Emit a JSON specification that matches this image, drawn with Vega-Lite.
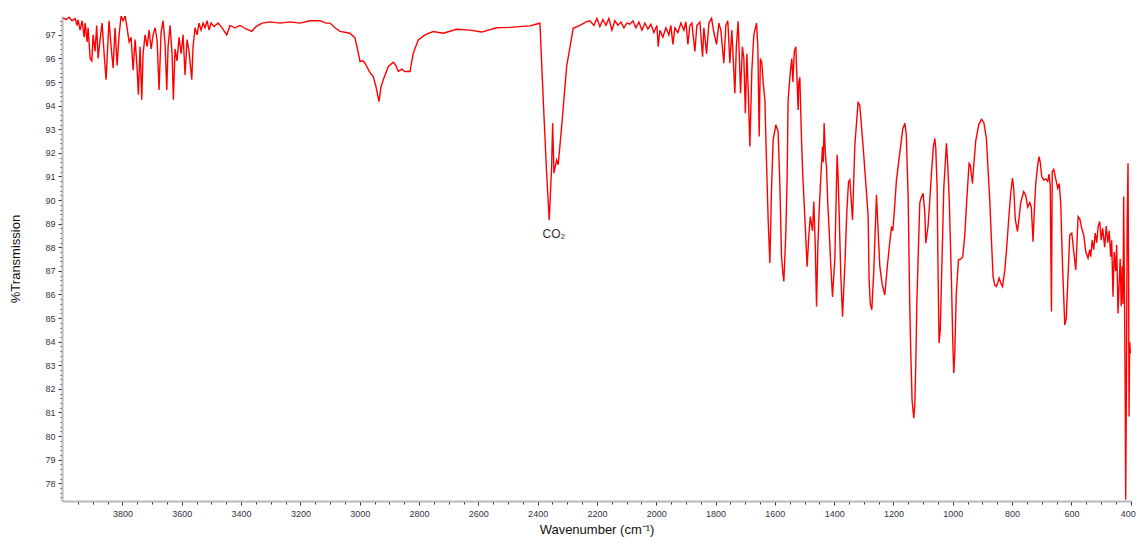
{
  "$schema": "https://vega.github.io/schema/vega-lite/v6.json",
  "width": 1069,
  "height": 485,
  "autosize": "none",
  "padding": {"left": 62, "top": 16, "right": 5, "bottom": 36},
  "background": "white",
  "config": {"view": {"stroke": null}, "font": "Liberation Sans"},
  "datasets": {
    "ir": [
      {"w":4000,"t":97.72},{"w":3990,"t":97.65},{"w":3980,"t":97.75},{"w":3970,"t":97.6},{"w":3960,"t":97.7},{"w":3953,"t":97.4},{"w":3950,"t":97.65},{"w":3943,"t":97.2},{"w":3936,"t":97.6},{"w":3929.5,"t":96.9},{"w":3926,"t":97.5},{"w":3919.3,"t":96.7},{"w":3916,"t":97.3},{"w":3909,"t":96.0},{"w":3903.5,"t":95.9},{"w":3899,"t":97.0},{"w":3892.4,"t":96.3},{"w":3887,"t":97.4},{"w":3882.2,"t":96.0},{"w":3875.5,"t":96.8},{"w":3868.8,"t":97.5},{"w":3862,"t":96.2},{"w":3855.3,"t":95.1},{"w":3850,"t":96.5},{"w":3845.2,"t":97.6},{"w":3838.4,"t":96.5},{"w":3831.7,"t":95.6},{"w":3825,"t":97.3},{"w":3818.2,"t":95.7},{"w":3811.4,"t":97.0},{"w":3804.7,"t":97.8},{"w":3798,"t":97.6},{"w":3791,"t":97.8},{"w":3784.5,"t":97.3},{"w":3777.7,"t":96.7},{"w":3771,"t":96.9},{"w":3764.3,"t":95.5},{"w":3757.5,"t":96.8},{"w":3750.8,"t":95.6},{"w":3746.4,"t":94.46},{"w":3740.7,"t":96.5},{"w":3735,"t":94.25},{"w":3730.6,"t":96.2},{"w":3723.8,"t":97.0},{"w":3717,"t":96.5},{"w":3710.3,"t":97.2},{"w":3703.6,"t":96.4},{"w":3696.8,"t":97.0},{"w":3690,"t":97.3},{"w":3683.4,"t":96.8},{"w":3676.6,"t":94.67},{"w":3670,"t":97.1},{"w":3663.1,"t":97.6},{"w":3656.4,"t":96.6},{"w":3650.7,"t":94.67},{"w":3646.3,"t":96.5},{"w":3639.5,"t":97.4},{"w":3632.8,"t":96.2},{"w":3628.4,"t":94.25},{"w":3622.7,"t":96.4},{"w":3616,"t":95.9},{"w":3609.2,"t":96.9},{"w":3602.5,"t":96.2},{"w":3595.7,"t":97.0},{"w":3589,"t":95.3},{"w":3582.2,"t":96.8},{"w":3575.5,"t":96.3},{"w":3566.4,"t":95.1},{"w":3562,"t":96.5},{"w":3555.3,"t":97.3},{"w":3548.5,"t":97.0},{"w":3541.8,"t":97.5},{"w":3535,"t":97.2},{"w":3528.3,"t":97.5},{"w":3521.5,"t":97.3},{"w":3514.8,"t":97.6},{"w":3508,"t":97.2},{"w":3501.3,"t":97.5},{"w":3491.2,"t":97.35},{"w":3477.7,"t":97.5},{"w":3464.2,"t":97.3},{"w":3448.4,"t":97.0},{"w":3437.3,"t":97.4},{"w":3420.4,"t":97.3},{"w":3403.6,"t":97.4},{"w":3383.3,"t":97.25},{"w":3364.1,"t":97.15},{"w":3349.6,"t":97.35},{"w":3329.4,"t":97.5},{"w":3302.4,"t":97.55},{"w":3268.7,"t":97.5},{"w":3235,"t":97.55},{"w":3201.3,"t":97.5},{"w":3167.6,"t":97.6},{"w":3133.9,"t":97.6},{"w":3113.6,"t":97.5},{"w":3100.2,"t":97.5},{"w":3083.3,"t":97.3},{"w":3066.5,"t":97.15},{"w":3032.9,"t":97.07},{"w":3015.9,"t":96.87},{"w":3005.8,"t":96.3},{"w":2999,"t":95.87},{"w":2989,"t":95.9},{"w":2982.2,"t":95.8},{"w":2965.3,"t":95.4},{"w":2954.2,"t":95.23},{"w":2945,"t":94.8},{"w":2935,"t":94.17},{"w":2928.3,"t":94.8},{"w":2920.5,"t":95.1},{"w":2903.6,"t":95.66},{"w":2886.8,"t":95.84},{"w":2877.7,"t":95.7},{"w":2870,"t":95.45},{"w":2858.5,"t":95.55},{"w":2847.3,"t":95.45},{"w":2830.5,"t":95.45},{"w":2819.4,"t":96.22},{"w":2802.5,"t":96.79},{"w":2780,"t":97.0},{"w":2752,"t":97.14},{"w":2718.2,"t":97.07},{"w":2673,"t":97.24},{"w":2628.2,"t":97.2},{"w":2588.8,"t":97.12},{"w":2538.2,"t":97.3},{"w":2493.4,"t":97.32},{"w":2459.7,"t":97.35},{"w":2426,"t":97.38},{"w":2405.7,"t":97.45},{"w":2392.3,"t":97.5},{"w":2381.1,"t":94.25},{"w":2369.7,"t":91.14},{"w":2360.9,"t":89.16},{"w":2352.8,"t":91.42},{"w":2349.4,"t":93.26},{"w":2345,"t":91.14},{"w":2336,"t":91.7},{"w":2330.6,"t":91.5},{"w":2319.1,"t":93.1},{"w":2302.2,"t":95.66},{"w":2280,"t":97.28},{"w":2257.4,"t":97.4},{"w":2234.8,"t":97.56},{"w":2223.7,"t":97.6},{"w":2210.2,"t":97.4},{"w":2200.2,"t":97.7},{"w":2190,"t":97.35},{"w":2180,"t":97.65},{"w":2169.8,"t":97.4},{"w":2159.7,"t":97.7},{"w":2149.5,"t":97.2},{"w":2139.4,"t":97.6},{"w":2129.3,"t":97.4},{"w":2119.2,"t":97.55},{"w":2109,"t":97.3},{"w":2098.9,"t":97.5},{"w":2088.7,"t":97.45},{"w":2078.7,"t":97.6},{"w":2068.6,"t":97.3},{"w":2058.5,"t":97.55},{"w":2048.4,"t":97.2},{"w":2038.3,"t":97.5},{"w":2028.1,"t":97.25},{"w":2018,"t":97.45},{"w":2008,"t":97.1},{"w":1997.8,"t":97.4},{"w":1993.4,"t":96.5},{"w":1987.7,"t":97.2},{"w":1977.6,"t":96.9},{"w":1967.5,"t":97.3},{"w":1957.4,"t":97.0},{"w":1950.7,"t":97.4},{"w":1943.9,"t":96.6},{"w":1937.2,"t":97.3},{"w":1927,"t":97.1},{"w":1917,"t":97.5},{"w":1906.9,"t":97.2},{"w":1900.1,"t":97.55},{"w":1893.3,"t":96.6},{"w":1886.6,"t":97.4},{"w":1879.9,"t":97.5},{"w":1869.7,"t":96.3},{"w":1863,"t":97.4},{"w":1852.9,"t":97.55},{"w":1843.8,"t":96.08},{"w":1839.4,"t":97.3},{"w":1830.3,"t":96.2},{"w":1822.4,"t":97.5},{"w":1813.4,"t":97.7},{"w":1805.7,"t":97.1},{"w":1796.6,"t":96.6},{"w":1788.9,"t":97.5},{"w":1782.2,"t":97.2},{"w":1772.1,"t":95.8},{"w":1765.4,"t":97.4},{"w":1758.6,"t":97.6},{"w":1751.8,"t":95.8},{"w":1745.1,"t":97.2},{"w":1734.9,"t":94.53},{"w":1729.9,"t":96.5},{"w":1723.8,"t":97.58},{"w":1715.7,"t":94.53},{"w":1709.6,"t":96.5},{"w":1704.6,"t":96.0},{"w":1699.5,"t":93.68},{"w":1694.4,"t":96.2},{"w":1689.4,"t":94.5},{"w":1684.3,"t":92.27},{"w":1677.6,"t":95.5},{"w":1670.9,"t":97.0},{"w":1661.8,"t":97.5},{"w":1657.4,"t":96.5},{"w":1652.9,"t":92.69},{"w":1648.9,"t":96.0},{"w":1643.9,"t":95.8},{"w":1638.9,"t":94.9},{"w":1633.6,"t":94.25},{"w":1628.1,"t":91.56},{"w":1622.6,"t":89.16},{"w":1616.9,"t":87.33},{"w":1611.2,"t":90.5},{"w":1605.8,"t":92.55},{"w":1596.7,"t":93.19},{"w":1589,"t":92.9},{"w":1583.3,"t":90.72},{"w":1577.6,"t":87.61},{"w":1573.1,"t":86.9},{"w":1569.7,"t":86.55},{"w":1563,"t":88.6},{"w":1558.6,"t":91.0},{"w":1555.3,"t":94.25},{"w":1547.2,"t":95.52},{"w":1542.8,"t":96.0},{"w":1539.3,"t":95.0},{"w":1534.3,"t":96.3},{"w":1529.3,"t":96.5},{"w":1525.9,"t":95.3},{"w":1521.5,"t":93.82},{"w":1519.2,"t":95.0},{"w":1515.8,"t":95.2},{"w":1510.1,"t":92.55},{"w":1505.7,"t":91.0},{"w":1499,"t":89.3},{"w":1491.2,"t":87.18},{"w":1485.4,"t":88.5},{"w":1480.5,"t":89.3},{"w":1473,"t":88.7},{"w":1468.6,"t":89.94},{"w":1463.6,"t":88.0},{"w":1459.5,"t":85.49},{"w":1455.1,"t":88.0},{"w":1450.7,"t":89.5},{"w":1445,"t":91.0},{"w":1439.3,"t":92.27},{"w":1436.6,"t":91.6},{"w":1433.9,"t":93.26},{"w":1429.9,"t":92.0},{"w":1425.9,"t":91.4},{"w":1421.4,"t":89.8},{"w":1417,"t":88.74},{"w":1411.3,"t":87.2},{"w":1405.6,"t":85.9},{"w":1397.8,"t":87.5},{"w":1390.1,"t":91.92},{"w":1386.7,"t":91.0},{"w":1383.3,"t":89.5},{"w":1377.6,"t":86.8},{"w":1371.8,"t":85.06},{"w":1363.1,"t":87.5},{"w":1357.4,"t":89.5},{"w":1351.6,"t":90.78},{"w":1347.2,"t":90.86},{"w":1338.1,"t":89.16},{"w":1330.4,"t":92.3},{"w":1319.2,"t":94.17},{"w":1313.5,"t":94.0},{"w":1302.4,"t":92.27},{"w":1290.9,"t":90.3},{"w":1285.5,"t":89.3},{"w":1282.2,"t":86.62},{"w":1278.1,"t":85.6},{"w":1273.1,"t":85.35},{"w":1266.4,"t":87.0},{"w":1257.3,"t":90.22},{"w":1252.9,"t":89.0},{"w":1246.1,"t":87.2},{"w":1237.7,"t":86.4},{"w":1229.3,"t":85.98},{"w":1219.2,"t":87.4},{"w":1206.7,"t":88.88},{"w":1202.3,"t":88.7},{"w":1197.3,"t":89.5},{"w":1189.9,"t":90.86},{"w":1178.7,"t":92.0},{"w":1168.7,"t":93.0},{"w":1161.9,"t":93.26},{"w":1156.9,"t":92.8},{"w":1150.7,"t":90.2},{"w":1145,"t":85.49},{"w":1141.6,"t":83.5},{"w":1137.2,"t":81.5},{"w":1131.5,"t":80.76},{"w":1128.2,"t":81.3},{"w":1124.8,"t":83.0},{"w":1121.4,"t":85.5},{"w":1117,"t":87.5},{"w":1111.3,"t":89.87},{"w":1106.3,"t":90.1},{"w":1100.2,"t":90.29},{"w":1094.5,"t":89.5},{"w":1091.1,"t":88.17},{"w":1083.3,"t":88.9},{"w":1077.6,"t":90.0},{"w":1071.9,"t":91.14},{"w":1065.9,"t":92.2},{"w":1060.7,"t":92.62},{"w":1057.4,"t":92.2},{"w":1053,"t":90.6},{"w":1049.6,"t":87.0},{"w":1046.3,"t":83.94},{"w":1042.2,"t":84.5},{"w":1037.2,"t":87.0},{"w":1030.4,"t":90.5},{"w":1021.3,"t":92.41},{"w":1017,"t":91.5},{"w":1011.9,"t":90.0},{"w":1004.3,"t":86.5},{"w":1000,"t":84.0},{"w":996.7,"t":82.67},{"w":993.3,"t":83.5},{"w":988.3,"t":86.0},{"w":980.8,"t":87.47},{"w":973.1,"t":87.5},{"w":966.4,"t":87.6},{"w":959.6,"t":88.5},{"w":952.9,"t":90.0},{"w":945.1,"t":91.56},{"w":941.1,"t":91.5},{"w":933.6,"t":90.7},{"w":929.1,"t":91.5},{"w":922.7,"t":92.5},{"w":912.3,"t":93.2},{"w":903.3,"t":93.42},{"w":895.5,"t":93.3},{"w":886.5,"t":92.6},{"w":882,"t":91.5},{"w":875.3,"t":90.0},{"w":870.3,"t":88.5},{"w":864.1,"t":86.76},{"w":858.4,"t":86.4},{"w":852.7,"t":86.34},{"w":848.3,"t":86.5},{"w":843.9,"t":86.7},{"w":838.2,"t":86.5},{"w":832.5,"t":86.34},{"w":824.8,"t":87.0},{"w":818.1,"t":88.0},{"w":811.4,"t":89.2},{"w":804.6,"t":90.3},{"w":798.8,"t":90.93},{"w":794.4,"t":90.5},{"w":789.4,"t":89.2},{"w":781.9,"t":88.67},{"w":775.9,"t":89.3},{"w":770.9,"t":89.9},{"w":760.7,"t":90.36},{"w":754,"t":90.2},{"w":747.2,"t":89.7},{"w":740.3,"t":89.9},{"w":735.2,"t":89.7},{"w":729.3,"t":88.24},{"w":725.3,"t":89.5},{"w":720.2,"t":90.7},{"w":713.4,"t":91.5},{"w":709,"t":91.84},{"w":705,"t":91.6},{"w":700,"t":91.0},{"w":693.2,"t":90.85},{"w":686.5,"t":90.9},{"w":679.8,"t":90.8},{"w":675.3,"t":91.1},{"w":671.3,"t":90.6},{"w":667.3,"t":85.28},{"w":664.6,"t":91.2},{"w":659.6,"t":91.3},{"w":652.8,"t":90.9},{"w":646.1,"t":90.5},{"w":641.1,"t":90.7},{"w":636.1,"t":89.9},{"w":629.3,"t":87.0},{"w":622.3,"t":84.71},{"w":617.3,"t":85.0},{"w":612.2,"t":86.5},{"w":605.5,"t":88.53},{"w":598.7,"t":88.6},{"w":593.7,"t":88.0},{"w":585.2,"t":87.04},{"w":581.8,"t":88.0},{"w":577.4,"t":89.3},{"w":571.7,"t":89.2},{"w":565,"t":88.8},{"w":558.2,"t":88.5},{"w":551.5,"t":87.8},{"w":543.9,"t":87.54},{"w":538.1,"t":87.9},{"w":534.8,"t":87.6},{"w":529.8,"t":88.3},{"w":524.7,"t":87.9},{"w":519.7,"t":88.6},{"w":514.6,"t":88.2},{"w":509.6,"t":88.9},{"w":504.5,"t":89.09},{"w":499.4,"t":88.3},{"w":494.4,"t":88.8},{"w":491.1,"t":88.4},{"w":487.7,"t":88.0},{"w":482.6,"t":88.9},{"w":477.5,"t":88.2},{"w":472.5,"t":88.7},{"w":467.4,"t":87.6},{"w":464.1,"t":88.3},{"w":459.7,"t":85.9},{"w":455.7,"t":87.8},{"w":450.6,"t":87.0},{"w":447.3,"t":88.1},{"w":442.8,"t":85.2},{"w":438.8,"t":86.5},{"w":435.4,"t":87.5},{"w":432,"t":85.5},{"w":428.7,"t":87.2},{"w":426,"t":85.6},{"w":423.7,"t":90.15},{"w":421,"t":86.0},{"w":418.6,"t":82.0},{"w":416.9,"t":77.3},{"w":414.5,"t":82.0},{"w":411.9,"t":89.0},{"w":409.1,"t":91.56},{"w":406.8,"t":86.0},{"w":405.7,"t":80.83},{"w":403.4,"t":84.0},{"w":401,"t":83.5}
    ],
    "notes": [{"w": 2345, "t": 88.55, "label": "CO₂"}]
  },
  "layer": [
    {
      "data": {"name": "ir"},
      "mark": {"type": "line", "color": "#ff0000", "strokeWidth": 1.4, "clip": true},
      "encoding": {
        "x": {
          "field": "w", "type": "quantitative",
          "scale": {"domain": [399, 4004], "reverse": true, "nice": false, "zero": false},
          "axis": {
            "title": "Wavenumber (cm⁻¹)",
            "tickCount": 500,
            "values": [400,450,500,550,600,650,700,750,800,850,900,950,1000,1050,1100,1150,1200,1250,1300,1350,1400,1450,1500,1550,1600,1650,1700,1750,1800,1850,1900,1950,2000,2050,2100,2150,2200,2250,2300,2350,2400,2450,2500,2550,2600,2650,2700,2750,2800,2850,2900,2950,3000,3050,3100,3150,3200,3250,3300,3350,3400,3450,3500,3550,3600,3650,3700,3750,3800,3850,3900,3950],
            "labelExpr": "datum.value % 200 === 0 ? datum.label : ''",
            "tickSize": {"condition": {"test": "datum.value % 200 === 0", "value": 4}, "value": 3},
            "labelOffset": {"condition": {"test": "datum.value === 400", "value": -3}, "value": 0},
            "grid": false,
            "labelOverlap": false,
            "labelFlush": false,
            "labelFont": "Liberation Sans",
            "labelFontSize": 9,
            "labelColor": "#333344",
            "labelPadding": 4,
            "format": "d",
            "domainColor": "#b8b8b8",
            "domainWidth": 2,
            "tickColor": "#333333",
            "tickWidth": 1,
            "titleFont": "Liberation Sans",
            "titleFontSize": 13,
            "titleFontWeight": "normal",
            "titleColor": "#111111",
            "titlePadding": 5
          }
        },
        "y": {
          "field": "t", "type": "quantitative",
          "scale": {"domain": [77.25, 97.8], "nice": false, "zero": false},
          "axis": {
            "title": "%Transmission",
            "tickCount": 500,
            "values": [77.4,77.6,77.8,78,78.2,78.4,78.6,78.8,79,79.2,79.4,79.6,79.8,80,80.2,80.4,80.6,80.8,81,81.2,81.4,81.6,81.8,82,82.2,82.4,82.6,82.8,83,83.2,83.4,83.6,83.8,84,84.2,84.4,84.6,84.8,85,85.2,85.4,85.6,85.8,86,86.2,86.4,86.6,86.8,87,87.2,87.4,87.6,87.8,88,88.2,88.4,88.6,88.8,89,89.2,89.4,89.6,89.8,90,90.2,90.4,90.6,90.8,91,91.2,91.4,91.6,91.8,92,92.2,92.4,92.6,92.8,93,93.2,93.4,93.6,93.8,94,94.2,94.4,94.6,94.8,95,95.2,95.4,95.6,95.8,96,96.2,96.4,96.6,96.8,97,97.2,97.4,97.6],
            "labelExpr": "datum.value % 1 === 0 ? format(datum.value, 'd') : ''",
            "tickSize": {"condition": {"test": "datum.value % 1 === 0", "value": 4}, "value": 2},
            "grid": false,
            "labelOverlap": false,
            "labelFont": "Liberation Sans",
            "labelFontSize": 9,
            "labelColor": "#333344",
            "labelPadding": 3,
            "domainColor": "#b8b8b8",
            "domainWidth": 2,
            "tickColor": "#333333",
            "tickWidth": 1,
            "titleFont": "Liberation Sans",
            "titleFontSize": 13,
            "titleFontWeight": "normal",
            "titleColor": "#111111",
            "titlePadding": 22
          }
        }
      }
    },
    {
      "data": {"name": "notes"},
      "mark": {"type": "text", "font": "Liberation Sans", "fontSize": 12, "color": "#333333", "align": "center", "baseline": "middle"},
      "encoding": {
        "x": {"field": "w", "type": "quantitative"},
        "y": {"field": "t", "type": "quantitative"},
        "text": {"field": "label"}
      }
    }
  ]
}
